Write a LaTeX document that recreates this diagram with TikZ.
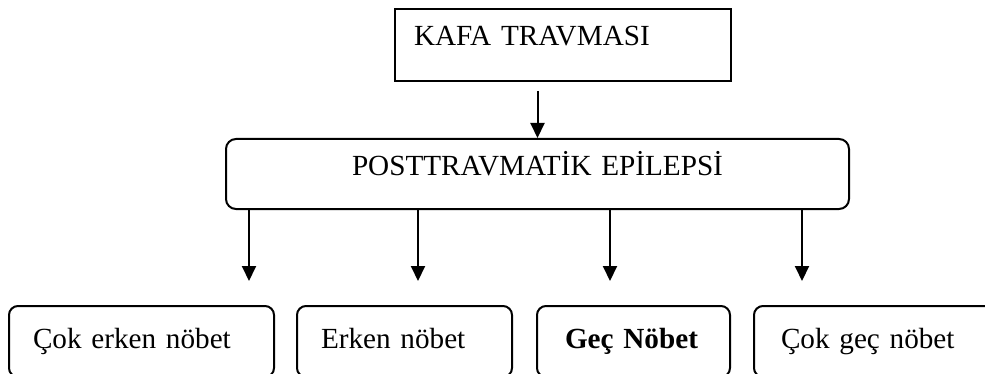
\documentclass[tikz,border=0pt]{standalone}
\usepackage{fontspec}
\setmainfont{Liberation Serif}
\usetikzlibrary{positioning,arrows.meta}

\begin{document}
\begin{tikzpicture}[
    x=0.5pt, y=-0.5pt,
    font=\fontsize{14.6}{17}\selectfont,
    line width=1pt,
    plain box/.style={draw, anchor=north west, inner ysep=0pt, align=left},
    round box/.style={plain box, rounded corners=4.5pt, inner xsep=12pt,
        text height=21pt, text depth=14.5pt},
    down arrow/.style={-{Triangle[length=7.5pt,width=7pt]}}
]
  \useasboundingbox (0,0) rectangle (985,374);
  \clip (0,0) rectangle (985,374);

  \node[plain box, inner xsep=9.5pt, text width=149pt, text height=18.5pt, text depth=17.5pt]
    (kafa) at (394,8) {KAFA TRAVMASI};
  \node[plain box, rounded corners=5pt, inner xsep=12pt, text width=287.5pt, align=center,
    text height=18.5pt, text depth=16.5pt]
    (ptepi) at (225,138) {POSTTRAVMATİK EPİLEPSİ};

  % onset groups
  \node[round box, text width=108.5pt] (cokerken) at (8,305) {Çok erken nöbet};
  \node[round box, text width=83.5pt] (erken) at (296,305) {Erken nöbet};
  \node[round box, inner xsep=14pt, text width=68.5pt] (gec) at (536,305) {\textbf{Geç Nöbet}};
  \node[round box, inner xsep=13.5pt, text width=108pt] (cokgec) at (753,305) {Çok geç nöbet};

  \coordinate (t1) at (249,281);
  \coordinate (t2) at (418,281);
  \coordinate (t3) at (610,281);
  \coordinate (t4) at (802,281);

  \draw[down arrow, shorten <=4.5pt] (ptepi.north |- kafa.south) -- (ptepi.north);
  \foreach \t in {t1,t2,t3,t4}
    \draw[down arrow] (ptepi.south -| \t) -- (\t);
\end{tikzpicture}
\end{document}
